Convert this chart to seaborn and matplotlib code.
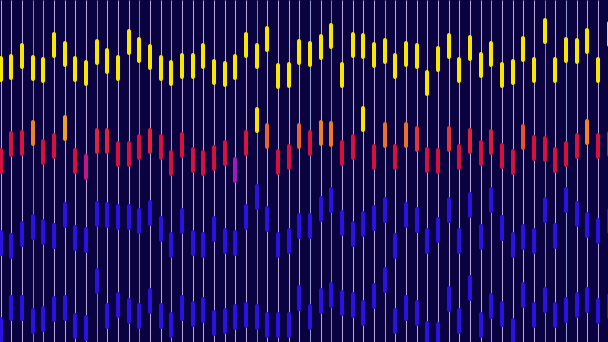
import numpy as np
import pandas as pd
import matplotlib
matplotlib.use("Agg")
import matplotlib.pyplot as plt
import seaborn as sns
from matplotlib.colors import LinearSegmentedColormap

# ---- data (values are vertical levels, 0 = top) ----
columns = list(range(58))

yellow_top = [56, 54, 43, 55, 57, 32, 41, 56, 60, 39, 48, 55, 29, 37, 44,
              55, 60, 53, 53, 43, 59, 61, 54, 32, 43, 26, 63, 62, 39,
              41, 34, 23, 62, 32, 33, 42, 38, 53, 41, 43, 70, 46, 33,
              57, 35, 52, 41, 62, 59, 36, 57, 18, 57, 37, 38, 28, 57, 21]

red_top = [148, 131, 130, 120, 139, 133, 115, 148, 154, 128, 128, 141, 141, 134, 128,
           134, 150, 132, 147, 150, 145, 140, 157, 130, 107, 123, 149, 144, 123,
           130, 120, 121, 140, 134, 106, 144, 122, 144, 122, 126, 147, 148, 126,
           144, 128, 140, 129, 143, 149, 124, 135, 136, 147, 141, 133, 119, 133, 131]

blue_top = [230, 233, 221, 214, 219, 223, 202, 225, 227, 201, 202, 204, 204, 208, 200,
            216, 232, 208, 230, 232, 216, 228, 230, 204, 184, 206, 232, 228, 213,
            213, 196, 187, 210, 221, 211, 205, 197, 233, 202, 207, 228, 217, 197,
            228, 192, 224, 187, 215, 232, 224, 228, 197, 223, 187, 201, 212, 218, 208]

blue_low_top = [317, 295, 295, 308, 306, 296, 295, 313, 315, 268, 303, 292, 298, 303, 288,
                303, 312, 295, 301, 297, 310, 308, 304, 302, 304, 312, 312, 312, 285,
                304, 288, 282, 290, 292, 300, 283, 267, 308, 295, 300, 321, 322, 286,
                308, 275, 312, 293, 301, 318, 282, 302, 287, 302, 297, 292, 287, 298, 293]

line_tone = [0, 0, 0, 2, 1, 0, 0, 0, 0, 2, 0, 0, 0, 2, 0,
             0, 1, 0, 0, 0, 0, 0, 0, 0, 2, 0, 0, 0, 0,
             1, 0, 2, 0, 0, 0, 0, 1, 0, 0, 0, 0, 0, 0,
             0, 0, 0, 1, 0, 0, 0, 0, 2, 0, 1, 0, 0, 0, 0]

# ---- styling ----
BG = "#0a0340"
SEG_LEN = 25.5
LW_PT = 2.9
CAP = 2.0
tone_colors = {0: "#b4a6d8", 1: "#8f9ad0", 2: "#4f96c6"}

sns.set_theme(style="dark", rc={"axes.facecolor": BG, "figure.facecolor": BG})

cmap = LinearSegmentedColormap.from_list("level", [
    (0.0, "#f8e800"), (0.067, "#f8e400"), (0.16, "#f2a41e"), (0.253, "#ee7a2a"),
    (0.32, "#e2343a"), (0.373, "#d6123f"), (0.64, "#d3123f"), (0.693, "#c4168c"),
    (0.747, "#8c1fd0"), (0.933, "#2c12de"), (1.0, "#2c12de")])

rows = []
seg = 0
for tops in (yellow_top, red_top, blue_top, blue_low_top):
    for x, t in zip(columns, tops):
        center = t + SEG_LEN / 2
        rows.append({"x": x, "y": t + CAP, "seg": seg, "level": center})
        rows.append({"x": x, "y": t + SEG_LEN - CAP, "seg": seg, "level": center})
        seg += 1
df = pd.DataFrame(rows)

fig = plt.figure(figsize=(6.08, 3.42), dpi=100)
ax = fig.add_axes([0, 0, 1, 1])

# thin full-height column lines
ax.vlines(columns, 0, 342, colors=[tone_colors[t] for t in line_tone],
          linewidth=0.75, zorder=1)

sns.lineplot(data=df, x="x", y="y", units="seg", estimator=None, hue="level",
             palette=cmap, hue_norm=(115, 190), sort=False, legend=False,
             linewidth=LW_PT, solid_capstyle="round", ax=ax, zorder=3)

left = -0.7 / (608 / 57)
ax.set_xlim(left, left + 57)
ax.set_ylim(342, 0)
ax.set_axis_off()
ax.set_facecolor(BG)
fig.patch.set_facecolor(BG)

fig.savefig("out.png", dpi=100, facecolor=BG)
